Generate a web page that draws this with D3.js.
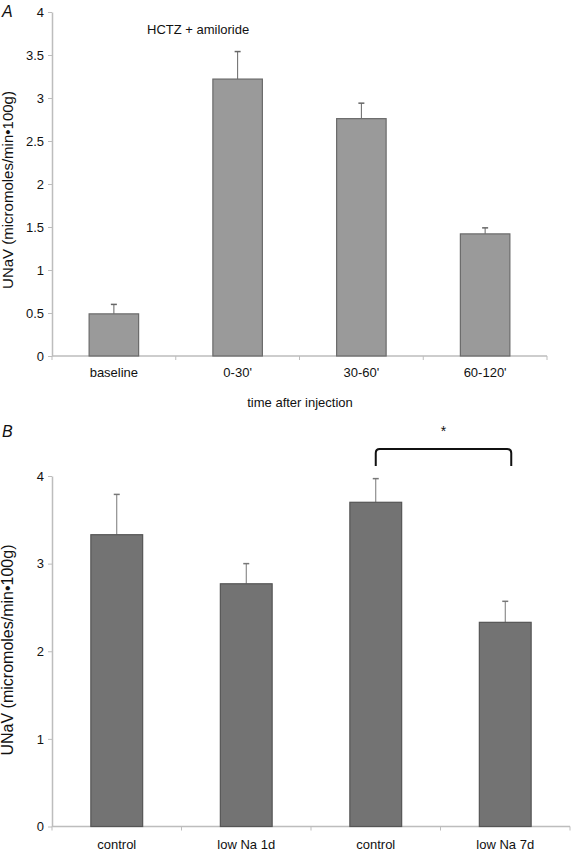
<!DOCTYPE html>
<html><head><meta charset="utf-8">
<script src="https://cdn.jsdelivr.net/npm/d3@7"></script>
<style>body{margin:0;background:#fff}svg text{font-family:"Liberation Sans",Arial,sans-serif}</style>
</head><body>
<svg id="c" width="572" height="851"></svg>
<script>
// Panel A data
const catsA = ["baseline", "0-30'", "30-60'", "60-120'"];
const valsA = [0.49, 3.22, 2.76, 1.42];
const errA = [0.11, 0.32, 0.18, 0.07];
const ticksA = [0, 0.5, 1, 1.5, 2, 2.5, 3, 3.5, 4];
// Panel B data
const catsB = ["control", "low Na 1d", "control", "low Na 7d"];
const valsB = [3.33, 2.77, 3.70, 2.33];
const errB = [0.46, 0.23, 0.27, 0.24];
const ticksB = [0, 1, 2, 3, 4];

const svg = d3.select("#c");
const axisCol = "#bdbdbd";

function panel(o) {
  const g = svg.append("g");
  const idx = o.cats.map((d, i) => i);
  const x = d3.scaleBand().domain(idx).range([o.x0, o.x1]).padding(0);
  const y = d3.scaleLinear().domain([0, 4]).range([o.y0, o.y1]);
  // y axis
  const ya = g.append("g").attr("transform", `translate(${o.x0},0)`)
    .call(d3.axisLeft(y).tickValues(o.ticks).tickFormat(d3.format("")).tickSize(4).tickPadding(4).tickSizeOuter(0));
  ya.select(".domain").attr("stroke", axisCol).attr("stroke-width", 1.5);
  ya.selectAll(".tick line").attr("stroke", axisCol);
  ya.selectAll(".tick text").attr("font-size", 13).attr("fill", "#111");
  // x axis line
  g.append("line").attr("x1", o.x0).attr("x2", o.x1).attr("y1", y(0)).attr("y2", y(0))
    .attr("stroke", axisCol).attr("stroke-width", 1.5);
  const bounds = idx.map(i => x(i)).concat([x(idx[idx.length - 1]) + x.bandwidth()]);
  g.selectAll(".xt").data(bounds).join("line")
    .attr("x1", d => d).attr("x2", d => d).attr("y1", y(0)).attr("y2", y(0) + 4)
    .attr("stroke", axisCol);
  g.selectAll(".xl").data(o.cats).join("text")
    .attr("x", (d, i) => x(i) + x.bandwidth() / 2).attr("y", y(0) + o.labDy)
    .attr("text-anchor", "middle").attr("font-size", 13).attr("fill", "#111").text(d => d);
  const bw = x.bandwidth() * 0.4;
  const cx = i => x(i) + x.bandwidth() / 2;
  // error bars
  g.selectAll(".eb").data(o.vals).join("line")
    .attr("x1", (d, i) => cx(i)).attr("x2", (d, i) => cx(i))
    .attr("y1", d => y(d)).attr("y2", (d, i) => y(d + o.err[i]))
    .attr("stroke", o.errCol).attr("stroke-width", 1);
  g.selectAll(".ec").data(o.vals).join("line")
    .attr("x1", (d, i) => cx(i) - 3).attr("x2", (d, i) => cx(i) + 3)
    .attr("y1", (d, i) => y(d + o.err[i])).attr("y2", (d, i) => y(d + o.err[i]))
    .attr("stroke", o.errCol).attr("stroke-width", 1.5);
  // bars
  g.selectAll(".bar").data(o.vals).join("rect")
    .attr("x", (d, i) => cx(i) - bw / 2).attr("width", bw)
    .attr("y", d => y(d)).attr("height", d => y(0) - y(d))
    .attr("fill", o.fill).attr("stroke", o.stroke).attr("stroke-width", 1.2);
  // y label
  g.append("text").attr("transform", `translate(13,${o.labY}) rotate(-90)`)
    .attr("text-anchor", "middle").attr("font-size", o.labSize).attr("fill", "#111")
    .text("UNaV (micromoles/min\u2022100g)");
  // panel letter
  g.append("text").attr("x", 2).attr("y", o.letterY).attr("font-size", 16).attr("font-style", "italic")
    .attr("fill", "#111").text(o.letter);
  return {g, x, y, cx};
}

const A = panel({cats: catsA, vals: valsA, err: errA, ticks: ticksA, x0: 52, x1: 547, y0: 356, y1: 12,
  labDy: 21, fill: "#9a9a9a", stroke: "#6a6a6a", errCol: "#666", letter: "A", letterY: 17,
  labY: 190, labSize: 15});
A.g.append("text").attr("x", 147).attr("y", 34).attr("font-size", 13).attr("fill", "#111").text("HCTZ + amiloride");
A.g.append("text").attr("x", 300).attr("y", 407).attr("text-anchor", "middle").attr("font-size", 13)
  .attr("fill", "#111").text("time after injection");

const B = panel({cats: catsB, vals: valsB, err: errB, ticks: ticksB, x0: 52, x1: 570, y0: 826.5, y1: 476,
  labDy: 22, fill: "#737373", stroke: "#555", errCol: "#777", letter: "B", letterY: 437,
  labY: 650, labSize: 16});
// significance bracket
const bl = B.cx(2), br = B.cx(3) + 6, bt = 449, bb = 466, r = 4;
B.g.append("path")
  .attr("d", `M${bl},${bb} L${bl},${bt + r} Q${bl},${bt} ${bl + r},${bt} L${br - r},${bt} Q${br},${bt} ${br},${bt + r} L${br},${bb}`)
  .attr("fill", "none").attr("stroke", "#111").attr("stroke-width", 2);
B.g.append("text").attr("x", (bl + br) / 2).attr("y", 436).attr("text-anchor", "middle").attr("font-size", 14)
  .attr("fill", "#111").text("*");
</script>
</body></html>
